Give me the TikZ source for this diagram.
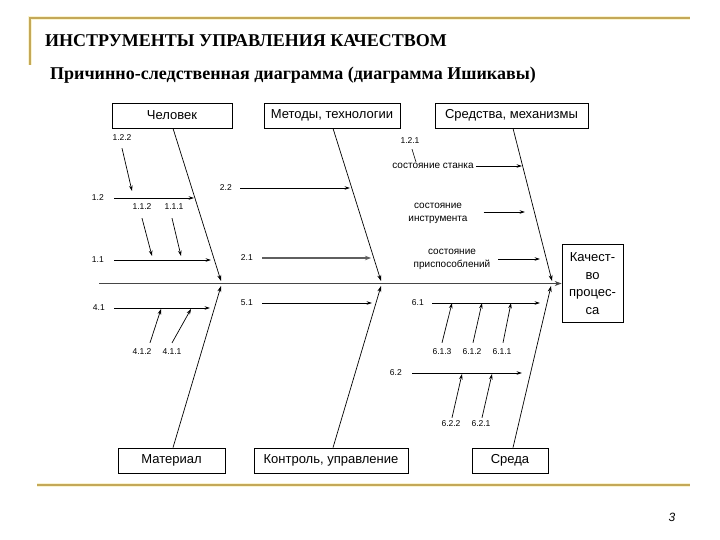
\documentclass[tikz,border=0pt]{standalone}
\usepackage{fontspec}
\setmainfont{Liberation Sans}
\newfontfamily\serifb{Liberation Serif}
\usetikzlibrary{arrows.meta}
\definecolor{goldline}{RGB}{196,168,88}
\definecolor{goldglow}{RGB}{250,244,208}
\definecolor{spinegray}{RGB}{70,70,70}
\definecolor{thickgray}{RGB}{95,95,95}
\begin{document}
\begin{tikzpicture}[x=1pt,y=-1pt,
  box/.style={draw, line width=0.7pt, font=\fontsize{13}{15}\selectfont, minimum height=25pt, inner sep=0pt},
  lab/.style={font=\fontsize{8.5}{10}\selectfont, inner sep=0pt},
  txt/.style={font=\fontsize{10}{13}\selectfont, inner sep=0pt, align=center},
  bone/.style={line width=0.7pt, -{Stealth[length=6pt,width=4pt]}},
  arr/.style={line width=0.7pt, -{Stealth[length=5.5pt,width=3.6pt]}},
  frameglow/.style={goldglow, line width=4.5pt},
  frameline/.style={goldline, line width=1.6pt}]
\useasboundingbox (0,0) rectangle (720,540);
\fill[white] (0,0) rectangle (720,540);

% decorative frame
\draw[frameglow] (30,65) -- (30,18) -- (690,18);
\draw[frameglow] (37,485) -- (690,485);
\draw[frameline] (30,65) -- (30,18) -- (690,18);
\draw[frameline] (37,485) -- (690,485);

% titles
\node[anchor=base west, inner sep=0pt, font=\serifb\bfseries\fontsize{18}{20}\selectfont] (title) at (45,47) {ИНСТРУМЕНТЫ УПРАВЛЕНИЯ КАЧЕСТВОМ};
\node[anchor=base west, inner sep=0pt, font=\serifb\bfseries\fontsize{18}{20}\selectfont] (subtitle) at (50,80) {Причинно-следственная диаграмма (диаграмма Ишикавы)};
\node[inner sep=0pt, font=\fontsize{12}{14}\selectfont\itshape] (pg) at (672,517) {3};

% category boxes
\node[box, minimum width=120pt] (chel) at (172,115.5) {Человек};
\node[box, minimum width=136pt] (met) at (332,115.5) {Методы, технологии};
\node[box, minimum width=153pt] (sred) at (511.5,115.5) {Средства, механизмы};
\node[box, minimum width=61pt, minimum height=78pt, align=center, font=\fontsize{13}{17.5}\selectfont] (kach) at (592.5,283.5) {Качест-\\во\\процес-\\са};
\node[box, minimum width=107pt] (mat) at (171.5,460.5) {Материал};
\node[box, minimum width=154pt] (kont) at (331,460.5) {Контроль, управление};
\node[box, minimum width=76pt] (sreda) at (510,460.5) {Среда};

% spine
\coordinate (sp0) at (99,283.5);
\draw[line width=1.2pt, spinegray, -{Stealth[length=7pt,width=5pt]}] (sp0) -- (kach.west);

% main bones
\coordinate (j1) at (221,281); \coordinate (j2) at (381,281); \coordinate (j3) at (552,281);
\coordinate (k1) at (221,286); \coordinate (k2) at (381,286); \coordinate (k3) at (551,286);
\draw[bone] ([xshift=1pt]chel.south) -- (j1);
\draw[bone] ([xshift=1pt]met.south) -- (j2);
\draw[bone] ([xshift=1.5pt]sred.south) -- (j3);
\draw[bone] ([xshift=1.5pt]mat.north) -- (k1);
\draw[bone] ([xshift=2pt]kont.north) -- (k2);
\draw[bone] ([xshift=3pt]sreda.north) -- (k3);

% --- Человек
\node[lab, anchor=east] (l12) at (104,198) {1.2};
\coordinate (c12) at (194,198);
\draw[arr] ([xshift=10pt]l12.east) -- (c12);
\node[lab, anchor=east] (l11) at (104,260) {1.1};
\coordinate (c11) at (211,260);
\draw[arr] ([xshift=10pt]l11.east) -- (c11);
\node[lab] (l122) at (122,138) {1.2.2};
\coordinate (c122) at (132,191);
\draw[arr] ([yshift=-7pt]l122.south) -- (c122);
\node[lab] (l112) at (142,207) {1.1.2};
\coordinate (c112) at (152,256);
\draw[arr] ([yshift=-8pt]l112.south) -- (c112);
\node[lab] (l111) at (174,207) {1.1.1};
\coordinate (c111) at (181,256);
\draw[arr] ([xshift=-2pt,yshift=-8pt]l111.south) -- (c111);

% --- Методы
\node[lab, anchor=east] (l22) at (232,188) {2.2};
\coordinate (c22) at (350,188);
\draw[arr] ([xshift=8pt]l22.east) -- (c22);
\node[lab, anchor=east] (l21) at (253,258) {2.1};
\coordinate (c21) at (371,258);
\draw[line width=1.8pt, thickgray, -{Stealth[length=6pt,width=4.5pt]}] ([xshift=9pt]l21.east) -- (c21);

% --- Средства
\node[lab] (l121) at (410,141) {1.2.1};
\node[txt] (st1) at (433,166) {состояние станка};
\draw[line width=0.6pt] ([xshift=2pt,yshift=-5pt]l121.south) -- ([xshift=-17pt,yshift=1pt]st1.north);
\coordinate (cst1) at (522,166);
\draw[arr] ([xshift=2pt]st1.east) -- (cst1);
\node[txt] (st2) at (438,213) {состояние\\инструмента};
\coordinate (cst2) at (525,212);
\draw[arr] ([xshift=16pt,yshift=1pt]st2.east) -- (cst2);
\node[txt] (st3) at (452,259.5) {состояние\\приспособлений};
\coordinate (cst3) at (540,259);
\draw[arr] ([xshift=8pt,yshift=0.5pt]st3.east) -- (cst3);

% --- Материал
\node[lab, anchor=east] (l41) at (105,308) {4.1};
\coordinate (c41) at (210,308);
\draw[arr] ([xshift=9pt]l41.east) -- (c41);
\node[lab] (l412) at (142,352) {4.1.2};
\coordinate (c412) at (161,309);
\draw[arr] ([xshift=8pt,yshift=6pt]l412.north) -- (c412);
\node[lab] (l411) at (172,352) {4.1.1};
\coordinate (c411) at (191,309);
\draw[arr] ([yshift=6pt]l411.north) -- (c411);

% --- Контроль
\node[lab, anchor=east] (l51) at (253,303) {5.1};
\coordinate (c51) at (372,303);
\draw[arr] ([xshift=9pt]l51.east) -- (c51);

% --- Среда
\node[lab, anchor=east] (l61) at (424,303) {6.1};
\coordinate (c61) at (540,303);
\draw[arr] ([xshift=8pt]l61.east) -- (c61);
\node[lab] (l613) at (442,352) {6.1.3};
\coordinate (c613) at (452,303);
\draw[arr] ([yshift=6pt]l613.north) -- (c613);
\node[lab] (l612) at (472,352) {6.1.2};
\coordinate (c612) at (482,303);
\draw[arr] ([xshift=1pt,yshift=6pt]l612.north) -- (c612);
\node[lab] (l611) at (502,352) {6.1.1};
\coordinate (c611) at (511,303);
\draw[arr] ([xshift=1pt,yshift=6pt]l611.north) -- (c611);
\node[lab, anchor=east] (l62) at (402,373) {6.2};
\coordinate (c62) at (522,373);
\draw[arr] ([xshift=10pt]l62.east) -- (c62);
\node[lab] (l622) at (451,424) {6.2.2};
\coordinate (c622) at (462,374);
\draw[arr] ([xshift=1pt,yshift=3pt]l622.north) -- (c622);
\node[lab] (l621) at (481,424) {6.2.1};
\coordinate (c621) at (492,374);
\draw[arr] ([xshift=1pt,yshift=3pt]l621.north) -- (c621);
\end{tikzpicture}
\end{document}
